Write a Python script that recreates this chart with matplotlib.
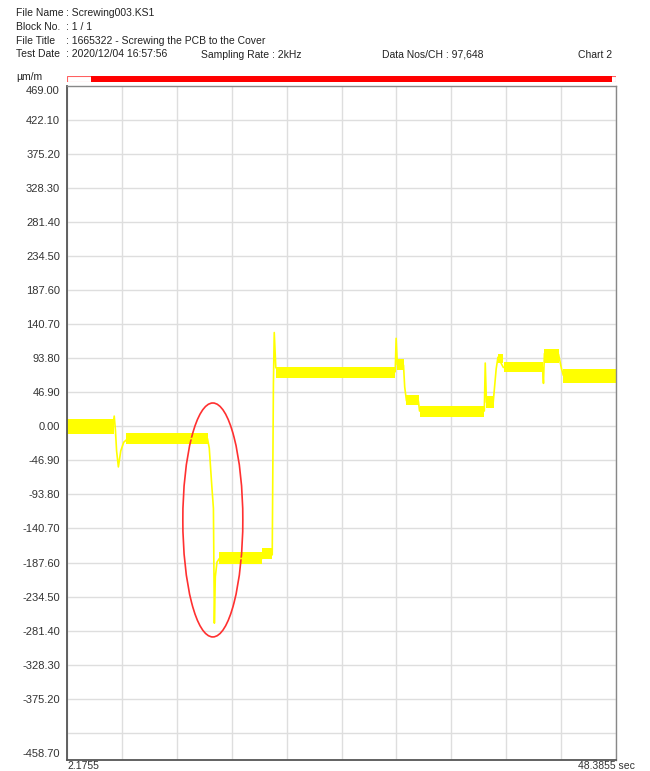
import numpy as np
import matplotlib
matplotlib.use("Agg")
import matplotlib.pyplot as plt
from matplotlib.patches import Ellipse, Rectangle

plt.rcParams['font.family'] = ['Liberation Sans', 'DejaVu Sans']

# header
header_labels = ["File Name", "Block No.", "File Title", "Test Date"]
header_values = ["Screwing003.KS1", "1 / 1", "1665322 - Screwing the PCB to the Cover", "2020/12/04 16:57:56"]
sampling_rate = "Sampling Rate : 2kHz"
data_nos = "Data Nos/CH : 97,648"
chart_name = "Chart 2"
unit = "µm/m"

# axis range
t_min, t_max = 2.1755, 48.3855
y_min, y_max = -458.70, 469.00
y_step = 46.90

# strain trace, key points (sec, µm/m)
trace_t = [2.18, 6.05, 6.15, 6.25, 6.35, 6.5, 6.7, 6.95, 7.3, 14.0, 14.15, 14.35, 14.5,
           14.58, 14.66, 14.8, 15.0, 18.6, 18.7, 19.45, 19.55, 19.62, 19.75, 20.0,
           29.8, 29.88, 29.98, 30.5, 30.6, 30.75, 31.75, 31.85, 37.3, 37.38, 37.48,
           38.05, 38.3, 38.45, 38.9, 42.2, 42.28, 42.36, 43.55, 43.8, 43.95, 48.38]
trace_v = [2, 2, 14, -5, -34, -56, -34, -22, -17, -17, -30, -79, -113,
           -271, -207, -187, -182, -182, -177, -177, 59, 129, 81, 75,
           75, 121, 85, 84, 54, 35, 35, 21, 21, 87, 33,
           33, 79, 95, 81, 81, 59, 100, 99, 79, 70, 70]

# noise bands on the plateaus (start, end, low, high)
band_t0 = [2.18, 7.1, 14.95, 18.6, 19.8, 29.98, 30.72, 31.9, 37.45, 38.45, 38.95, 42.35, 43.95]
band_t1 = [6.1, 14.05, 18.6, 19.45, 29.82, 30.52, 31.8, 37.3, 38.1, 38.9, 42.22, 43.6, 48.38]
band_lo = [-10, -25, -189, -183, 67, 77, 29, 13, 25, 87, 74, 87, 60]
band_hi = [10, -9, -173, -167, 82, 92, 43, 28, 41, 100, 89, 107, 79]

# red marker ellipse (centre t, centre value, width sec, height µm/m)
mark_t, mark_v, mark_w, mark_h = 14.45, -129.0, 5.05, 322.0

# scroll bar (fraction of record shown)
bar_start, bar_end = 0.044, 0.992

W, H = 650, 771
fig = plt.figure(figsize=(W / 100, H / 100), dpi=100)

def px(x, y):
    return x / W, 1 - y / H

fs = 7.5
# header texts
for i, (lab, val) in enumerate(zip(header_labels, header_values)):
    yy = 13 + i * 13.8
    fig.text(*px(16, yy), lab, fontsize=fs, va='center', color='#222222')
    fig.text(*px(65.5, yy), ": " + val, fontsize=fs, va='center', color='#222222')
fig.text(*px(201, 54.5), sampling_rate, fontsize=fs, va='center', color='#222222')
fig.text(*px(382, 54.5), data_nos, fontsize=fs, va='center', color='#222222')
fig.text(*px(612, 54.5), chart_name, fontsize=fs, va='center', ha='right', color='#222222')
fig.text(*px(16, 77), unit, fontsize=fs, va='center', color='#222222')

# scroll bar
left, right = 67 / W, 616 / W
top, bottom = 85.5, 759.5
bax = fig.add_axes([left, 1 - 82 / H, right - left, 6 / H])
bax.set_xlim(0, 1)
bax.set_ylim(0, 1)
bax.axis('off')
bax.add_patch(Rectangle((0, 0), 1, 1, facecolor='white', edgecolor='#ff6060', lw=0.8))
bax.add_patch(Rectangle((bar_start, 0), bar_end - bar_start, 1, facecolor='#ff0000', edgecolor='none'))

# main chart
ax = fig.add_axes([left, 1 - bottom / H, right - left, (bottom - top) / H])
ax.set_xlim(t_min, t_max)
ax.set_ylim(y_min, y_max)

yt = np.arange(-9, 10) * y_step
ax.set_yticks(yt)
ax.set_yticklabels(["" if abs(v + 9 * y_step) < 1e-6 else "%.2f" % v for v in yt])
ax.set_xticks(np.linspace(t_min, t_max, 11))
ax.set_xticklabels([])
ax.tick_params(length=0, labelsize=8, pad=5, labelcolor='#333333')
ax.grid(True, color='#dedede', lw=1)
ax.set_axisbelow(True)
for s in ['left', 'bottom']:
    ax.spines[s].set_color('#555555')
    ax.spines[s].set_linewidth(1.3)
for s in ['top', 'right']:
    ax.spines[s].set_color('#888888')
    ax.spines[s].set_linewidth(1.0)

fig.text(*px(60, 91), "%.2f" % y_max, fontsize=8, va='center', ha='right', color='#333333')
fig.text(*px(60, 754), "%.2f" % y_min, fontsize=8, va='center', ha='right', color='#333333')
fig.text(*px(67, 771), "%.4f" % t_min, fontsize=7.5, va='bottom', color='#333333')
fig.text(*px(635, 771), "%.4f sec" % t_max, fontsize=7.5, va='bottom', ha='right', color='#333333')

for t0, t1, lo, hi in zip(band_t0, band_t1, band_lo, band_hi):
    ax.fill_between([t0, t1], [lo, lo], [hi, hi], color='#ffff00', lw=0)
ax.plot(trace_t, trace_v, color='#ffff00', lw=1.2)

ax.add_patch(Ellipse((mark_t, mark_v), mark_w, mark_h, fill=False, edgecolor='#ff3030', lw=1.2))

fig.savefig('out.png', dpi=100)
